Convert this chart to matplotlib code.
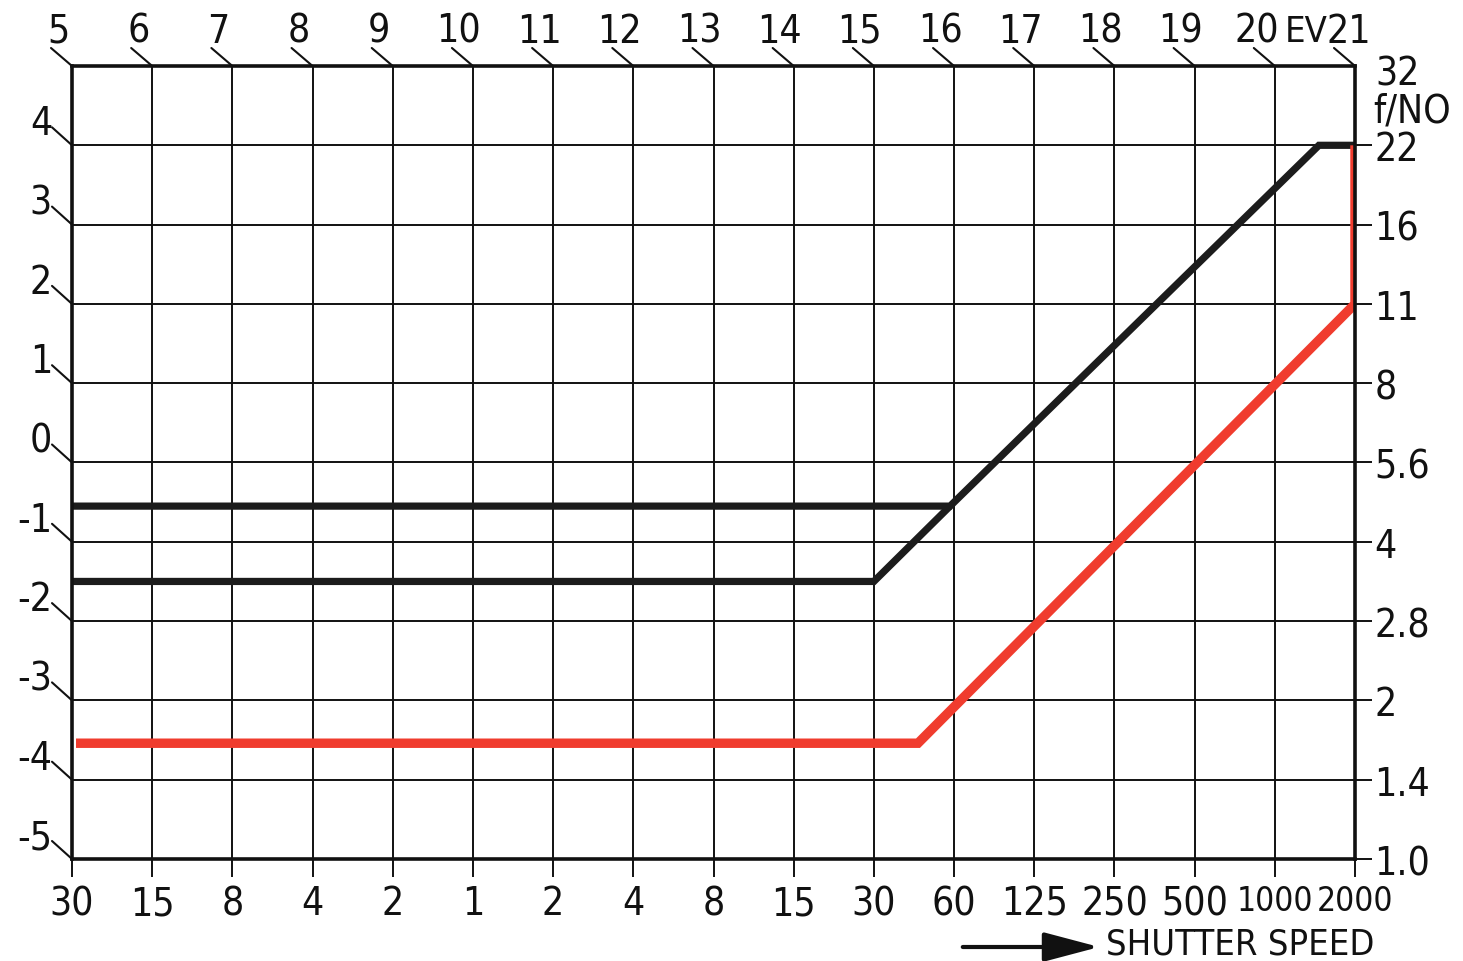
import matplotlib
matplotlib.use('agg')
import matplotlib.pyplot as plt
from matplotlib.patches import FancyArrowPatch

plt.rcParams['font.family'] = ['Liberation Sans Narrow', 'DejaVu Sans']
plt.rcParams['font.stretch'] = 'condensed'

# axis labels
shutter_labels = ['30', '15', '8', '4', '2', '1', '2', '4', '8', '15', '30',
                  '60', '125', '250', '500', '1000', '2000']
ev_labels = [5, 6, 7, 8, 9, 10, 11, 12, 13, 14, 15, 16, 17, 18, 19, 20, 21]
fno_labels = ['1.0', '1.4', '2', '2.8', '4', '5.6', '8', '11', '16', '22', '32']
left_labels = [-5, -4, -3, -2, -1, 0, 1, 2, 3, 4]

# program lines, in stops (x: shutter column, y: f-number row)
black_upper_x = [0, 10.95, 15.55, 16]
black_upper_y = [4.45, 4.45, 9.0, 9.0]
black_lower_x = [0, 10.0, 10.95]
black_lower_y = [3.5, 3.5, 4.45]
red_x = [0.05, 10.55, 16, 16]
red_y = [1.46, 1.46, 7.0, 9.0]

W, H = 1463, 962
fig = plt.figure(figsize=(W / 100, H / 100), dpi=100)
ax = fig.add_axes([72 / W, 1 - 860 / H, (1355 - 72) / W, (860 - 67) / H])
ncol = len(shutter_labels) - 1
nrow = len(fno_labels) - 1
ax.set_xlim(0, ncol)
ax.set_ylim(0, nrow)

for s in ax.spines.values():
    s.set_linewidth(2.6)
    s.set_color('#111111')
    s.set_zorder(5)

FS = 28
ax.set_xticks(range(ncol + 1))
ax.set_xticklabels(shutter_labels, fontsize=FS)
for lab in ax.get_xticklabels()[-2:]:
    lab.set_fontsize(FS - 4)
ax.set_yticks(range(nrow + 1))
ax.grid(True, color='#111111', lw=1.4)
ax.set_axisbelow(True)

ax.tick_params(axis='x', direction='out', length=13, width=1.4, pad=5,
               color='#111111', labelcolor='#111111')
ax.tick_params(axis='y', left=False, labelleft=False, right=True, labelright=True,
               direction='out', length=12, width=1.4, pad=2, labelsize=FS,
               color='#111111', labelcolor='#111111')
ax.set_yticklabels(fno_labels[:-1] + [''])
ax.yaxis.get_major_ticks()[-1].tick2line.set_visible(False)

ax.plot(black_upper_x, black_upper_y, color='#1c1c1c', lw=5.2,
        solid_capstyle='butt', solid_joinstyle='miter', zorder=3)
ax.plot(black_lower_x, black_lower_y, color='#1c1c1c', lw=5.2,
        solid_capstyle='butt', solid_joinstyle='miter', zorder=3)
ax.plot(red_x, red_y, color='#f03c2e', lw=6.8,
        solid_capstyle='butt', solid_joinstyle='miter', zorder=4)

# top EV scale with slanted ticks
last = len(ev_labels) - 1
for i, ev in enumerate(ev_labels):
    ax.annotate('', xy=(i, nrow), xycoords='data', xytext=(-21, 18),
                textcoords='offset pixels',
                arrowprops=dict(arrowstyle='-', lw=1.5, color='#111111',
                                shrinkA=0, shrinkB=0), annotation_clip=False)
    dx = -6 if i == last else (-18 if i == last - 1 else -14)
    ax.annotate(str(ev), xy=(i, nrow), xytext=(dx, 35),
                textcoords='offset pixels', ha='center', va='center',
                fontsize=FS, color='#111111', annotation_clip=False)
ax.annotate('EV', xy=(last, nrow), xytext=(-27, 35),
            textcoords='offset pixels', ha='right', va='center',
            fontsize=FS - 2, color='#111111', annotation_clip=False)

# left scale with slanted ticks
for j, v in enumerate(left_labels):
    ax.annotate('', xy=(0, j), xycoords='data', xytext=(-20, 18),
                textcoords='offset pixels',
                arrowprops=dict(arrowstyle='-', lw=1.5, color='#111111',
                                shrinkA=0, shrinkB=0), annotation_clip=False)
    ax.annotate(str(v), xy=(0, j), xytext=(-20, 22),
                textcoords='offset pixels', ha='right', va='center',
                fontsize=FS, color='#111111', annotation_clip=False)

# top right f-number labels
ax.annotate(fno_labels[-1], xy=(ncol, nrow), xytext=(20, -8),
            textcoords='offset pixels', ha='left', va='center',
            fontsize=FS, color='#111111', annotation_clip=False)
ax.annotate('f/NO', xy=(ncol, nrow), xytext=(18, -45),
            textcoords='offset pixels', ha='left', va='center',
            fontsize=FS, color='#111111', annotation_clip=False)

# shutter speed caption with arrow
arrow = FancyArrowPatch((960 / W, 1 - 948 / H), (1102 / W, 1 - 948 / H),
                        transform=fig.transFigure,
                        arrowstyle='-|>,head_length=1.7,head_width=0.45',
                        mutation_scale=20, lw=3, color='#111111')
fig.patches.append(arrow)
fig.text(1106 / W, 1 - 945 / H, 'SHUTTER SPEED', ha='left', va='center',
         fontsize=FS - 2, color='#111111')

fig.savefig('out.png', dpi=100, facecolor='white')
